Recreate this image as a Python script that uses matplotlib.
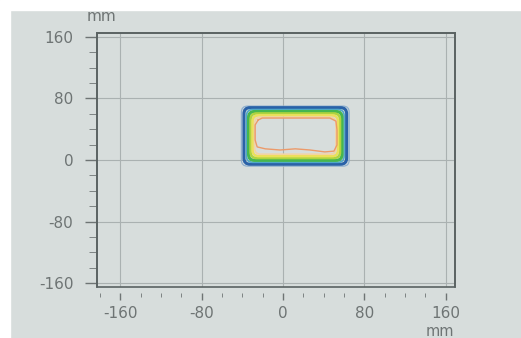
import matplotlib
matplotlib.use('Agg')
import matplotlib.pyplot as plt
from matplotlib.patches import FancyBboxPatch, Rectangle
from matplotlib.ticker import MultipleLocator

# contour bands, outside -> inside (mm)
band_left = [-41, -38.5, -36, -34, -32, -30, -28]
band_right = [65, 62.5, 60, 58, 56, 54, 52]
band_top = [70, 68, 65.5, 63, 60.5, 58, 55.5]
band_bottom = [-8, -5.5, -3, -0.5, 2.5, 5, 7.5]

# innermost (irregular) contour, mm
inner_x = [-24.5, -20.5, 0, 20, 46, 52, 53, 53, 50, 41, 26.5, 12, -3, -17.5, -25.5, -27.5, -27.5, -24.5]
inner_y = [52, 54.5, 54.5, 54.5, 54.5, 50.5, 39, 19.5, 11.5, 10.5, 13, 14.5, 13, 14.5, 17, 26, 45.5, 52]

x_ticks = [-160, -80, 0, 80, 160]
y_ticks = [-160, -80, 0, 80, 160]

band_colors = ['#8fb0cf', '#2a62a8', '#4fa8c8', '#45b650', '#aed43f', '#ebe05a', '#f4d3a2']
band_widths = [0.9, 2.2, 1.2, 2.2, 1.8, 1.8, 1.2]

bg = '#d7dddc'
txt = '#6e7474'

fig = plt.figure(figsize=(5.21, 3.38), dpi=100, facecolor=bg)
ax = fig.add_axes([0.1862, 0.1509, 0.687, 0.7515], facecolor=bg)

ax.set_xlim(-183, 169)
ax.set_ylim(-165, 165)

ax.xaxis.set_minor_locator(MultipleLocator(20))
ax.yaxis.set_minor_locator(MultipleLocator(20))
ax.set_xticks(x_ticks)
ax.set_yticks(y_ticks)
ax.set_xticklabels([str(v) for v in x_ticks])
ax.set_yticklabels([str(v) for v in y_ticks])

ax.grid(True, which='major', color='#aab1b1', lw=0.8)
ax.set_axisbelow(True)

# x ticks sit a little below the frame
ax.spines['bottom'].set_position(('outward', 4))
ax.spines['bottom'].set_visible(False)
for s in ['top', 'left', 'right']:
    ax.spines[s].set_color('#5a6262')
    ax.spines[s].set_linewidth(1.2)
ax.add_patch(Rectangle((0, 0), 1, 1, transform=ax.transAxes, fill=False,
                       ec='#5a6262', lw=1.2, clip_on=False, zorder=5))

ax.tick_params(axis='both', which='major', colors=txt, labelsize=11, width=1)
ax.tick_params(axis='x', which='major', length=5, pad=5)
ax.tick_params(axis='x', which='minor', length=3, colors=txt)
ax.tick_params(axis='y', which='major', length=9, pad=8)
ax.tick_params(axis='y', which='minor', length=5.5, colors=txt)

# bands as rounded rectangles
for i in range(len(band_left)):
    w = band_right[i] - band_left[i]
    h = band_top[i] - band_bottom[i]
    p = FancyBboxPatch((band_left[i], band_bottom[i]), w, h,
                       boxstyle='round,pad=0,rounding_size=6', mutation_aspect=1.32,
                       fill=False, ec=band_colors[i], lw=band_widths[i], zorder=3)
    ax.add_patch(p)

ax.plot(inner_x, inner_y, color='#ec9a6a', lw=1.0, zorder=4)

fig.text(0.194, 0.952, 'mm', color=txt, fontsize=11, ha='center', va='center')
fig.text(0.845, 0.018, 'mm', color=txt, fontsize=10.5, ha='center', va='center')

# white borders of the photo
fig.patches.append(Rectangle((0, 0.97), 1, 0.03, transform=fig.transFigure, color='white', zorder=0))
fig.patches.append(Rectangle((0, 0), 0.019, 1, transform=fig.transFigure, color='white', zorder=0))

fig.savefig('out.png', dpi=100, facecolor=bg)
